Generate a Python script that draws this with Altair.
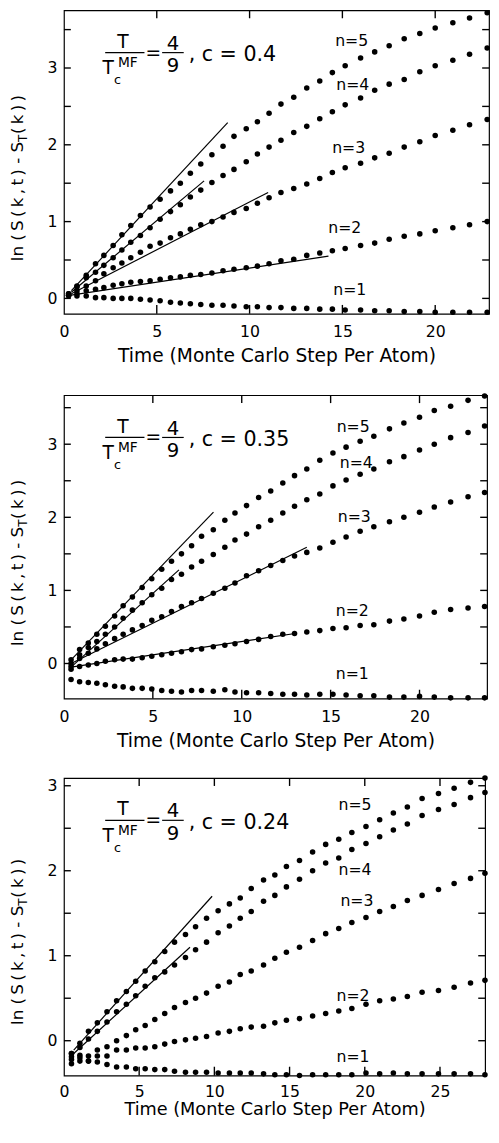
import altair as alt
import pandas as pd

FONT = "DejaVu Sans"
TS = "\u2009"

# ---------------- Panel 1 : c = 0.4 ----------------
T1 = [0.25, 0.7, 1.2, 1.7, 2.15, 2.65, 3.12, 3.6, 4.12, 4.64, 5.18, 5.74, 6.27, 6.81,
      7.37, 7.97, 8.57, 9.16, 9.82, 10.42, 11.05, 11.69, 12.38, 13.08, 13.78, 14.46,
      15.15, 15.98, 16.74, 17.52, 18.33, 19.17, 20.0, 20.95, 21.85, 22.8]
P1_N1 = [0.04, 0.03, 0.03, 0.01, 0.01, 0.0, 0.0, 0.0, -0.01, -0.02, -0.03, -0.05, -0.06,
         -0.07, -0.08, -0.09, -0.09, -0.10, -0.11, -0.11, -0.12, -0.12, -0.13, -0.13,
         -0.14, -0.14, -0.15, -0.15, -0.16, -0.16, -0.17, -0.17, -0.18, -0.18, -0.18, -0.18]
P1_N2 = [0.035, 0.06, 0.10, 0.12, 0.14, 0.17, 0.19, 0.21, 0.22, 0.23, 0.25, 0.27, 0.28,
         0.30, 0.31, 0.33, 0.36, 0.38, 0.40, 0.42, 0.45, 0.49, 0.51, 0.56, 0.59, 0.62,
         0.65, 0.69, 0.72, 0.77, 0.81, 0.84, 0.88, 0.92, 0.96, 1.00]
P1_N3 = [0.04, 0.10, 0.16, 0.23, 0.32, 0.40, 0.46, 0.53, 0.60, 0.68, 0.72, 0.79, 0.84,
         0.90, 0.96, 1.00, 1.06, 1.12, 1.17, 1.24, 1.31, 1.38, 1.43, 1.49, 1.56, 1.64,
         1.70, 1.76, 1.83, 1.89, 1.97, 2.04, 2.12, 2.19, 2.26, 2.33]
P1_N4 = [0.06, 0.16, 0.27, 0.34, 0.43, 0.53, 0.63, 0.73, 0.82, 0.92, 1.03, 1.13, 1.22,
         1.32, 1.41, 1.51, 1.60, 1.68, 1.78, 1.88, 1.97, 2.06, 2.16, 2.24, 2.34, 2.43,
         2.52, 2.61, 2.71, 2.79, 2.85, 2.95, 3.03, 3.10, 3.18, 3.26]
P1_N5 = [0.06, 0.15, 0.30, 0.45, 0.56, 0.69, 0.83, 0.95, 1.08, 1.19, 1.29, 1.40, 1.50,
         1.63, 1.75, 1.87, 1.98, 2.11, 2.21, 2.30, 2.41, 2.53, 2.62, 2.74, 2.83, 2.94,
         3.03, 3.13, 3.21, 3.29, 3.38, 3.45, 3.52, 3.59, 3.65, 3.72]
P1_FITS = {"5": [(0.4, 0.10), (8.82, 2.29)], "4": [(0.4, 0.08), (7.55, 1.53)],
           "3": [(0.4, 0.06), (11.0, 1.38)], "2": [(0.3, 0.04), (14.25, 0.55)]}
P1_LABELS = [("n=5", 15.5, 3.35), ("n=4", 15.56, 2.78), ("n=3", 15.34, 1.96),
             ("n=2", 15.13, 0.92), ("n=1", 15.4, 0.11)]

# ---------------- Panel 2 : c = 0.35 ----------------
T2 = [0.4, 0.88, 1.37, 1.85, 2.33, 2.85, 3.33, 3.85, 4.4, 4.94, 5.5, 6.05, 6.61, 7.18,
      7.74, 8.4, 9.05, 9.62, 10.27, 10.95, 11.63, 12.31, 12.97, 13.66, 14.39, 15.13,
      15.87, 16.66, 17.43, 18.31, 19.12, 20.0, 20.83, 21.75, 22.73, 23.66]
P2_N1 = [-0.22, -0.25, -0.26, -0.27, -0.29, -0.31, -0.32, -0.34, -0.34, -0.35, -0.37,
         -0.38, -0.39, -0.37, -0.37, -0.38, -0.36, -0.39, -0.40, -0.40, -0.41, -0.42,
         -0.42, -0.43, -0.42, -0.42, -0.43, -0.44, -0.44, -0.46, -0.46, -0.45, -0.46,
         -0.47, -0.47, -0.47]
P2_N2 = [-0.08, -0.04, -0.02, 0.0, 0.03, 0.05, 0.06, 0.06, 0.08, 0.10, 0.12, 0.14, 0.16,
         0.19, 0.20, 0.23, 0.25, 0.27, 0.30, 0.33, 0.37, 0.40, 0.41, 0.43, 0.45, 0.48,
         0.49, 0.52, 0.53, 0.58, 0.61, 0.65, 0.70, 0.74, 0.76, 0.78]
P2_N3 = [-0.04, 0.07, 0.14, 0.20, 0.27, 0.34, 0.40, 0.46, 0.52, 0.59, 0.64, 0.71, 0.78,
         0.83, 0.89, 0.96, 1.03, 1.10, 1.20, 1.27, 1.34, 1.41, 1.47, 1.52, 1.58, 1.66,
         1.73, 1.81, 1.87, 1.94, 2.00, 2.07, 2.14, 2.21, 2.28, 2.34]
P2_N4 = [0.0, 0.12, 0.22, 0.30, 0.40, 0.50, 0.62, 0.73, 0.83, 0.94, 1.03, 1.15, 1.22,
         1.32, 1.40, 1.49, 1.59, 1.69, 1.77, 1.87, 1.96, 2.06, 2.15, 2.24, 2.32, 2.43,
         2.51, 2.59, 2.66, 2.76, 2.83, 2.92, 3.00, 3.09, 3.16, 3.25]
P2_N5 = [0.05, 0.19, 0.28, 0.40, 0.51, 0.65, 0.79, 0.91, 1.04, 1.16, 1.29, 1.40, 1.50,
         1.61, 1.74, 1.83, 1.96, 2.06, 2.16, 2.27, 2.36, 2.47, 2.57, 2.66, 2.78, 2.88,
         2.96, 3.04, 3.11, 3.21, 3.29, 3.37, 3.46, 3.52, 3.60, 3.66]
P2_FITS = {"5": [(0.4, 0.05), (8.41, 2.07)], "4": [(0.4, -0.05), (6.47, 1.28)],
           "3": [(0.4, 0.0), (13.66, 1.59)], "2": [(0.4, -0.05), (13.0, 0.41)]}
P2_LABELS = [("n=5", 16.27, 3.24), ("n=4", 16.44, 2.74), ("n=3", 16.33, 2.0),
             ("n=2", 16.22, 0.72), ("n=1", 16.22, -0.14)]

# ---------------- Panel 3 : c = 0.24 ----------------
T3 = [0.5, 1.06, 1.63, 2.22, 2.86, 3.5, 4.15, 4.77, 5.4, 6.04, 6.7, 7.35, 8.08, 8.75,
      9.48, 10.25, 11.0, 11.72, 12.45, 13.27, 14.02, 14.79, 15.66, 16.53, 17.4, 18.27,
      19.14, 20.08, 20.99, 21.9, 22.83, 23.81, 24.9, 25.94, 27.03, 27.99]
P3_N1 = [-0.27, -0.24, -0.24, -0.25, -0.28, -0.31, -0.31, -0.33, -0.33, -0.34, -0.34,
         -0.36, -0.37, -0.37, -0.37, -0.38, -0.38, -0.38, -0.38, -0.39, -0.40, -0.40,
         -0.41, -0.40, -0.40, -0.40, -0.40, -0.38, -0.39, -0.38, -0.39, -0.39, -0.39,
         -0.39, -0.39, -0.40]
P3_N2 = [-0.22, -0.20, -0.24, -0.18, -0.18, -0.11, -0.11, -0.085, -0.085, -0.07, -0.04,
         -0.01, 0.01, 0.03, 0.05, 0.09, 0.11, 0.14, 0.16, 0.17, 0.21, 0.24, 0.26, 0.29,
         0.32, 0.35, 0.38, 0.43, 0.47, 0.49, 0.52, 0.57, 0.59, 0.63, 0.68, 0.71]
P3_N3 = [-0.15, -0.17, -0.18, -0.11, -0.07, 0.0, 0.06, 0.13, 0.18, 0.25, 0.32, 0.39,
         0.45, 0.50, 0.56, 0.64, 0.69, 0.78, 0.82, 0.89, 0.97, 1.04, 1.10, 1.18, 1.26,
         1.32, 1.39, 1.45, 1.52, 1.58, 1.65, 1.71, 1.78, 1.85, 1.91, 1.97]
P3_N4 = [-0.19, -0.08, 0.02, 0.11, 0.22, 0.34, 0.43, 0.53, 0.64, 0.74, 0.81, 0.89, 0.98,
         1.07, 1.16, 1.27, 1.35, 1.44, 1.52, 1.64, 1.71, 1.81, 1.90, 2.00, 2.09, 2.15,
         2.25, 2.32, 2.40, 2.48, 2.55, 2.65, 2.72, 2.78, 2.86, 2.92]
P3_N5 = [-0.15, -0.03, 0.11, 0.21, 0.34, 0.47, 0.58, 0.70, 0.82, 0.93, 1.05, 1.16, 1.25,
         1.34, 1.44, 1.53, 1.61, 1.68, 1.79, 1.89, 1.95, 2.05, 2.12, 2.22, 2.31, 2.37,
         2.45, 2.52, 2.60, 2.68, 2.75, 2.85, 2.91, 2.97, 3.04, 3.09]
P3_FITS = {"5": [(0.65, -0.11), (9.85, 1.70)], "4": [(0.65, -0.15), (8.38, 1.10)]}
P3_LABELS = [("n=5", 19.35, 2.77), ("n=4", 19.35, 2.01), ("n=3", 19.48, 1.64),
             ("n=2", 19.22, 0.53), ("n=1", 19.22, -0.19)]


def long_frame(times, series):
    rows = []
    for n, vals in series.items():
        for t, v in zip(times, vals):
            rows.append({"t": t, "v": v, "n": n})
    return pd.DataFrame(rows)


def fit_frame(fits):
    rows = []
    for n, pts in fits.items():
        for t, v in pts:
            rows.append({"t": t, "v": v, "n": n})
    return pd.DataFrame(rows)


class Frame:
    """Converts offsets inside the plot box into data coordinates."""

    def __init__(self, xdom, ydom, w, h):
        self.xdom, self.ydom, self.w, self.h = xdom, ydom, w, h
        self.xs = alt.Scale(domain=xdom, nice=False, zero=False)
        self.ys = alt.Scale(domain=ydom, nice=False, zero=False)
        self.kx = (xdom[1] - xdom[0]) / w
        self.ky = (ydom[1] - ydom[0]) / h

    def dx(self, px):
        return self.xdom[0] + px * self.kx

    def dy(self, py):
        return self.ydom[1] - py * self.ky

    def X(self, field="x"):
        return alt.X(field + ":Q", scale=self.xs, axis=None)

    def Y(self, field="y"):
        return alt.Y(field + ":Q", scale=self.ys, axis=None)

    def text(self, s, px, py, size, align="left", angle=None):
        props = dict(text=s, font=FONT, fontSize=size, align=align,
                     baseline="alphabetic", color="black")
        if angle is not None:
            props["angle"] = angle
        df = pd.DataFrame({"x": [self.dx(px)], "y": [self.dy(py)]})
        return alt.Chart(df).mark_text(**props).encode(x=self.X(), y=self.Y())

    def hbar(self, px1, px2, py):
        df = pd.DataFrame({"x": [self.dx(px1)], "x2": [self.dx(px2)],
                           "y": [self.dy(py)]})
        return alt.Chart(df).mark_rule(color="black", strokeWidth=1.2).encode(
            x=self.X(), x2="x2:Q", y=self.Y())


def formula(f, ctext):
    return [
        f.text("T", 60, 38, 19, "center"),
        f.hbar(42, 82, 43),
        f.text("T", 45, 65, 19, "center"),
        f.text("c", 51, 75, 13),
        f.text("MF", 55, 58, 14),
        f.text("=", 91, 49, 19, "center"),
        f.text("4", 111, 40, 20, "center"),
        f.hbar(100, 122, 43),
        f.text("9", 111, 63, 20, "center"),
        f.text(ctext, 127, 52, 21),
    ]


def ytitle(f, x0, junction):
    a = "ln (" + TS + "S" + TS + "(" + TS + "k" + TS + "," + TS + "t" + TS + ") - S"
    c = "(" + TS + "k" + TS + ")" + TS + ")"
    return [
        f.text(a, x0, junction, 17, "right", angle=270),
        f.text("T", x0 + 4, junction, 12, "left", angle=270),
        f.text(c, x0, junction - 8, 17, "left", angle=270),
    ]


def ticks(f, xticks, yticks):
    xt = [v for v in xticks if v > 0]
    y0, y1 = f.ydom
    x0, x1 = f.xdom
    bottom = pd.DataFrame({"t": xt, "a": [y0] * len(xt), "b": [y0 + 9 * f.ky] * len(xt)})
    top = pd.DataFrame({"t": xt, "a": [y1] * len(xt), "b": [y1 - 8 * f.ky] * len(xt)})
    left = pd.DataFrame({"v": yticks, "a": [x0] * len(yticks),
                         "b": [x0 + 7 * f.kx] * len(yticks)})
    right = pd.DataFrame({"v": yticks, "a": [x1] * len(yticks),
                          "b": [x1 - 7 * f.kx] * len(yticks)})
    out = []
    for df in (bottom, top):
        out.append(alt.Chart(df).mark_rule(color="black", strokeWidth=1.4).encode(
            x=f.X("t"), y=f.Y("a"), y2="b:Q"))
    for df in (left, right):
        out.append(alt.Chart(df).mark_rule(color="black", strokeWidth=1.4).encode(
            y=f.Y("v"), x=f.X("a"), x2="b:Q"))
    return out


def panel(times, series, fits, labels, xdom, ydom, xticks, yticks, w, h, ctext,
          junction, lab_pad=10, title_pad=8, title_size=19):
    f = Frame(xdom, ydom, w, h)
    pts = alt.Chart(long_frame(times, series)).mark_circle(
        size=32, color="black", opacity=1).encode(
        x=alt.X("t:Q", scale=f.xs, axis=alt.Axis(
            orient="bottom", values=xticks, ticks=False, tickSize=0,
            labelPadding=lab_pad, labelFlush=False,
            title="Time (Monte Carlo Step Per Atom)", titlePadding=title_pad,
            titleFontSize=title_size)),
        y=alt.Y("v:Q", scale=f.ys, axis=alt.Axis(
            orient="left", values=yticks, ticks=False, tickSize=0, labelPadding=7,
            labelExpr="datum.value % 1 == 0 ? format(datum.value, 'd') : ''",
            title=None)),
    )
    fit = alt.Chart(fit_frame(fits)).mark_line(color="black", strokeWidth=1.2).encode(
        x=f.X("t"), y=f.Y("v"), detail="n:N")
    labdf = pd.DataFrame(labels, columns=["label", "t", "v"])
    labs = alt.Chart(labdf).mark_text(
        font=FONT, fontSize=16, color="black", align="center", baseline="middle").encode(
        x=f.X("t"), y=f.Y("v"), text="label:N")
    layers = ([pts, fit, labs] + ticks(f, xticks, yticks) + formula(f, ctext)
              + ytitle(f, -42, junction))
    return alt.layer(*layers).resolve_scale(x="shared", y="shared").resolve_axis(
        x="independent", y="independent").properties(width=w, height=h)


p1 = panel(T1, {"1": P1_N1, "2": P1_N2, "3": P1_N3, "4": P1_N4, "5": P1_N5},
           P1_FITS, P1_LABELS, [0, 22.9], [-0.2, 3.75], [0, 5, 10, 15, 20],
           [0, 0.5, 1, 1.5, 2, 2.5, 3, 3.5], 433, 309, ", c = 0.4", 134)
p2 = panel(T2, {"1": P2_N1, "2": P2_N2, "3": P2_N3, "4": P2_N4, "5": P2_N5},
           P2_FITS, P2_LABELS, [0, 23.8], [-0.48, 3.67], [0, 5, 10, 15, 20],
           [0, 0.5, 1, 1.5, 2, 2.5, 3, 3.5], 431, 309, ", c = 0.35", 134)
p3 = panel(T3, {"1": P3_N1, "2": P3_N2, "3": P3_N3, "4": P3_N4, "5": P3_N5},
           P3_FITS, P3_LABELS, [0, 28.0], [-0.41, 3.09], [0, 5, 10, 15, 20, 25],
           [0, 0.5, 1, 1.5, 2, 2.5, 3], 429, 303, ", c = 0.24", 130,
           lab_pad=8, title_pad=2, title_size=18)

chart = alt.vconcat(alt.vconcat(p1, p2, spacing=26), p3, spacing=23).properties(
    padding={"left": 0, "right": 0, "top": -10, "bottom": 0}, background="white"
).configure_view(stroke="black", strokeWidth=1.2).configure_axis(
    labelFont=FONT, titleFont=FONT, labelFontSize=16, titleFontSize=19,
    titleFontWeight="normal", labelColor="black", titleColor="black",
    grid=False, domain=False)

chart.save("out.html", embed_options={"renderer": "svg", "actions": False})
